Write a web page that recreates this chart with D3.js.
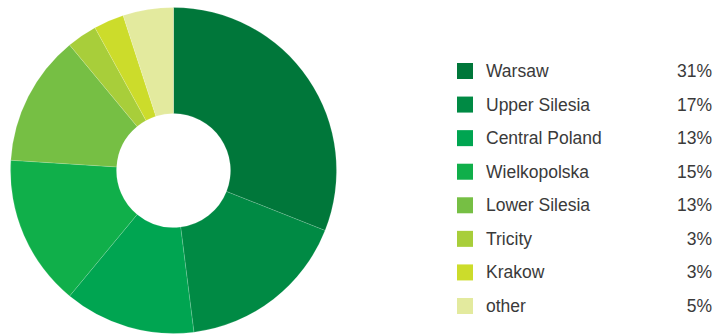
<!DOCTYPE html>
<html>
<head>
<meta charset="utf-8">
<script src="https://cdn.jsdelivr.net/npm/d3@7"></script>
<style>
  html, body { margin: 0; padding: 0; background: #fff; }
  svg { display: block; }
  text { font-family: "Liberation Sans", Arial, Helvetica, sans-serif; }
</style>
</head>
<body>
<svg id="chart" width="717" height="336"></svg>
<script>
// Regional share of the total, in percent
const regions = ["Warsaw", "Upper Silesia", "Central Poland", "Wielkopolska",
                 "Lower Silesia", "Tricity", "Krakow", "other"];
const shares  = [31, 17, 13, 15, 13, 3, 3, 5];
const colors  = ["#00773a", "#008a44", "#00a551", "#10af4a",
                 "#76bf44", "#a8ce3a", "#ccdc2b", "#e3ea9e"];

const data = regions.map((name, i) => ({ name, value: shares[i] }));

const svg = d3.select("#chart");
const cx = 173.5, cy = 170.5, outerR = 163, innerR = 57;

const color = d3.scaleOrdinal().domain(regions).range(colors);

const pie = d3.pie().value(d => d.value).sort(null);
const arc = d3.arc().innerRadius(innerR).outerRadius(outerR);

svg.append("g")
  .attr("transform", `translate(${cx},${cy})`)
  .selectAll("path")
  .data(pie(data))
  .join("path")
  .attr("d", arc)
  .attr("fill", d => color(d.data.name))
  .attr("stroke", "#ffffff")
  .attr("stroke-width", 0.3)
  .attr("stroke-opacity", 0.5);

// Legend
const y = d3.scalePoint().domain(regions).range([71, 306]);
const legend = svg.append("g");
const rows = legend.selectAll("g.row")
  .data(data)
  .join("g")
  .attr("class", "row")
  .attr("transform", d => `translate(0,${y(d.name)})`);

rows.append("rect")
  .attr("x", 457)
  .attr("y", -8)
  .attr("width", 16)
  .attr("height", 16)
  .attr("fill", d => color(d.name));

rows.append("text")
  .attr("x", 486)
  .attr("y", 6)
  .attr("font-size", 17.5)
  .attr("fill", "#3a3a3a")
  .text(d => d.name);

rows.append("text")
  .attr("x", 712)
  .attr("y", 6)
  .attr("text-anchor", "end")
  .attr("font-size", 17.5)
  .attr("fill", "#3a3a3a")
  .text(d => d.value + "%");
</script>
</body>
</html>
